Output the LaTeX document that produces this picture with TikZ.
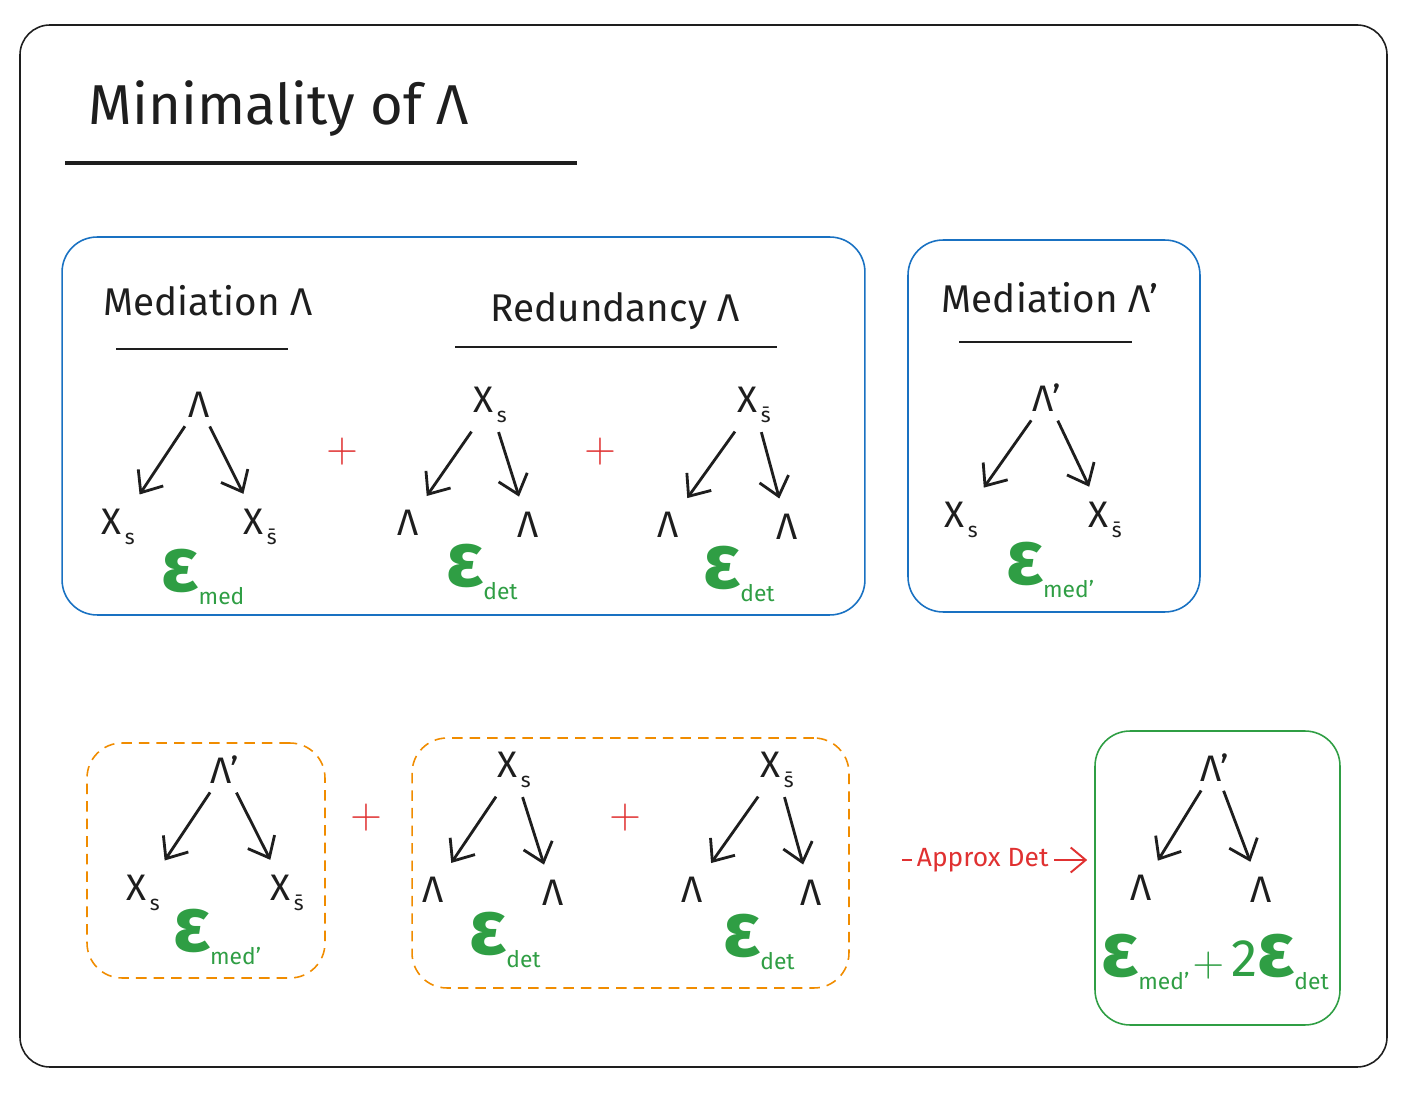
\documentclass[tikz,border=0pt]{standalone}
\usepackage{fontspec}
\setmainfont{Fira Sans}
\usepackage{xcolor}
\usepackage{tikz}
\usetikzlibrary{arrows.meta, positioning}

\definecolor{inkblack}{HTML}{1E1E1E}
\definecolor{panelblue}{HTML}{1971C2}
\definecolor{approxorange}{HTML}{F08C00}
\definecolor{errgreen}{HTML}{2F9E44}
\definecolor{plusred}{HTML}{E03131}

\newcommand{\Xsub}[1]{X\kern2pt\raisebox{-6pt}{\fontsize{12}{12}\selectfont #1}}
\newcommand{\errterm}[1]{{\fontsize{44}{44}\selectfont\bfseries ε}\raisebox{-7pt}{\fontsize{13}{13}\selectfont #1}}

\begin{document}
\begin{tikzpicture}[x=0.02cm, y=-0.02cm]
        % Styles
        \tikzstyle{panel} = [draw=panelblue, line width=0.9pt, rounded corners=0.7cm]
        \tikzstyle{approxbox} = [draw=approxorange, line width=0.9pt, dash pattern=on 6pt off 4pt, rounded corners=0.7cm]
        \tikzstyle{resultbox} = [draw=errgreen, line width=0.9pt, rounded corners=0.7cm]
        \tikzstyle{heading} = [text=inkblack, font=\fontsize{22}{26}\selectfont]
        \tikzstyle{var} = [text=inkblack, inner sep=3pt, font=\fontsize{21}{24}\selectfont]
        \tikzstyle{err} = [text=errgreen, inner sep=0pt]
        \tikzstyle{plus} = [text=plusred, font=\fontsize{40}{40}\selectfont]
        \tikzstyle{arrow} = [-{Straight Barb[length=3.6mm, width=6mm]}, draw=inkblack, line width=1.6pt, shorten <=2pt, shorten >=6pt]
        \tikzstyle{rule} = [draw=inkblack, line width=1.1pt]

        \useasboundingbox (0,0) rectangle (1420,1097);
        \draw[inkblack, line width=0.9pt, rounded corners=0.6cm] (20,25) rectangle (1387,1067);

        % Title
        \node[text=inkblack, anchor=base, font=\fontsize{32}{38}\selectfont] (title) at (279,125) {Minimality of Λ};
        \draw[rule, line width=2.4pt] (65,163) -- (577,163);

        % Boxes
        \node[panel, minimum width=16.06cm, minimum height=7.56cm] (medred) at (463.5,426) {};
        \node[panel, minimum width=5.84cm, minimum height=7.44cm] (medprime) at (1054,426) {};
        \node[approxbox, minimum width=4.76cm, minimum height=4.7cm] (apxmed) at (206,860.5) {};
        \node[approxbox, minimum width=8.74cm, minimum height=5cm] (apxred) at (630.5,863) {};
        \node[resultbox, minimum width=4.9cm, minimum height=5.88cm] (result) at (1217.5,878) {};

        % Headings
        \node[heading, anchor=base] (medhead) at (208,316) {Mediation Λ};
        \draw[rule] (116,349) -- (288,349);
        \node[heading, anchor=base] (redhead) at (615,322) {Redundancy Λ};
        \draw[rule] (455,347) -- (777,347);
        \node[heading, anchor=base] (med2head) at (1050,313) {Mediation Λ'};
        \draw[rule] (959,342) -- (1132,342);

        % Mediation Lambda
        \node[var] (m-root) at (199,405) {Λ};
        \node[var] (m-left) at (118,527) {\Xsub{s}};
        \node[var] (m-right) at (260,527) {\Xsub{\={s}}};
        \node[err] (m-err) at (203,577) {\errterm{med}};
        \draw[arrow] (m-root) -- (m-left);
        \draw[arrow] (m-root) -- (m-right);
        \node[plus] (plus1) at (342,452) {$+$};

        % Redundancy Lambda, X_s
        \node[var] (r1-root) at (490,405) {\Xsub{s}};
        \node[var] (r1-left) at (408,523) {Λ};
        \node[var] (r1-right) at (528,525) {Λ};
        \node[err] (r1-err) at (482,572) {\errterm{det}};
        \draw[arrow] (r1-root) -- (r1-left);
        \draw[arrow] (r1-root) -- (r1-right);
        \node[plus] (plus2) at (600,452) {$+$};

        % Redundancy Lambda, X_sbar
        \node[var] (r2-root) at (754,405) {\Xsub{\={s}}};
        \node[var] (r2-left) at (668,525) {Λ};
        \node[var] (r2-right) at (787,527) {Λ};
        \node[err] (r2-err) at (739,574) {\errterm{det}};
        \draw[arrow] (r2-root) -- (r2-left);
        \draw[arrow] (r2-root) -- (r2-right);

        % Mediation Lambda'
        \node[var] (p-root) at (1047,398) {Λ'};
        \node[var] (p-left) at (961,520) {\Xsub{s}};
        \node[var] (p-right) at (1105,520) {\Xsub{\={s}}};
        \node[err] (p-err) at (1050,570) {\errterm{med'}};
        \draw[arrow] (p-root) -- (p-left);
        \draw[arrow] (p-root) -- (p-right);

        % Approximation: mediation part
        \node[var] (a-root) at (225,770) {Λ'};
        \node[var] (a-left) at (143,893) {\Xsub{s}};
        \node[var] (a-right) at (287,893) {\Xsub{\={s}}};
        \node[err] (a-err) at (217,937) {\errterm{med'}};
        \draw[arrow] (a-root) -- (a-left);
        \draw[arrow] (a-root) -- (a-right);
        \node[plus] (plus3) at (366,818) {$+$};

        % Approximation: redundancy part
        \node[var] (b1-root) at (514,770) {\Xsub{s}};
        \node[var] (b1-left) at (433,890) {Λ};
        \node[var] (b1-right) at (553,893) {Λ};
        \node[err] (b1-err) at (505,940) {\errterm{det}};
        \draw[arrow] (b1-root) -- (b1-left);
        \draw[arrow] (b1-root) -- (b1-right);
        \node[plus] (plus4) at (625,818) {$+$};

        \node[var] (b2-root) at (777,770) {\Xsub{\={s}}};
        \node[var] (b2-left) at (692,890) {Λ};
        \node[var] (b2-right) at (811,893) {Λ};
        \node[err] (b2-err) at (759,942) {\errterm{det}};
        \draw[arrow] (b2-root) -- (b2-left);
        \draw[arrow] (b2-root) -- (b2-right);

        % Result
        \node[var] (c-root) at (1215,768) {Λ'};
        \node[var] (c-left) at (1141,888) {Λ};
        \node[var] (c-right) at (1261,890) {Λ};
        \node[err] (c-err) at (1215,962) {\errterm{med'}\kern2pt{\fontsize{30}{30}\selectfont$+$}\kern4pt{\fontsize{30}{30}\selectfont 2}\errterm{det}};
        \draw[arrow] (c-root) -- (c-left);
        \draw[arrow] (c-root) -- (c-right);

        % Approx Det
        \coordinate (apx) at (902,860);
        \draw[plusred, line width=1.1pt, -{Straight Barb[length=3mm, width=5mm]}, shorten >=4pt] (apx) -- node[pos=0.42, fill=white, inner sep=3pt, text=plusred, font=\fontsize{15}{17}\selectfont] (apxlabel) {Approx Det} (apx -| result.west);
\end{tikzpicture}
\end{document}
